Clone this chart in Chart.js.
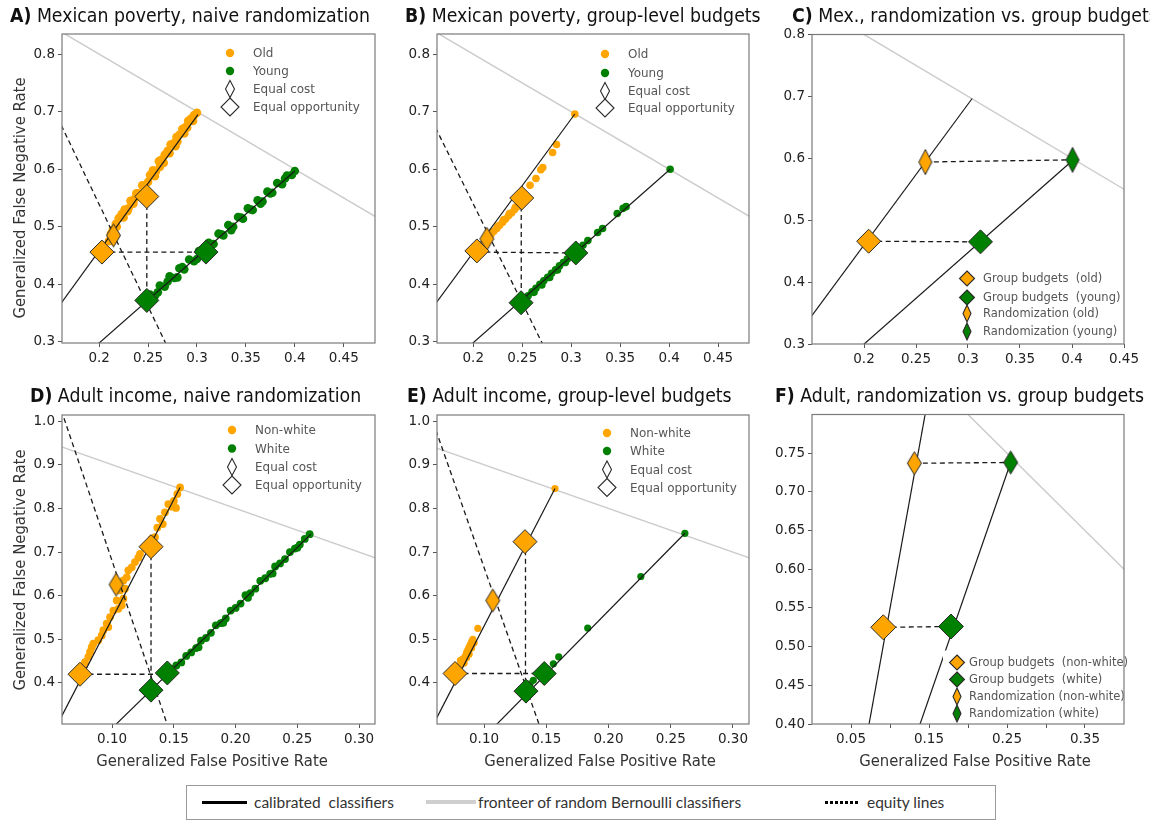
<!DOCTYPE html>
<html lang="en">
<head>
  <meta charset="UTF-8">
  <title>Calibrated classifiers: randomization vs. group budgets</title>
  <script src="https://cdn.jsdelivr.net/npm/chart.js"></script>
  <style>
    body { margin: 0; background: #fff; }
    #page { position: relative; width: 1150px; height: 825px; overflow: hidden; font-family: "DejaVu Sans", sans-serif; }
    canvas { position: absolute; }
    .title { position: absolute; font-size: 19.5px; line-height: 20px; white-space: nowrap; color: #111;
             transform-origin: 0 0; transform: scaleX(0.89); }
    .ylab { position: absolute; width: 320px; height: 20px; line-height: 20px; text-align: center; font-size: 16.5px;
            color: #333; white-space: nowrap; transform: rotate(-90deg) scaleX(0.9); }
    .xlab { position: absolute; width: 320px; height: 20px; line-height: 20px; text-align: center; font-size: 16.5px;
            color: #333; white-space: nowrap; transform: scaleX(0.9); }
    #keybox { position: absolute; left: 186px; top: 785px; width: 808px; height: 33px; border: 1px solid #9a9a9a; }
    .key { position: absolute; font-family: Lato, sans-serif; font-size: 15.5px; color: #333; line-height: 20px; top: 792px; white-space: nowrap; }
    .swatch { position: absolute; }
  </style>
</head>
<body>
<div id="page">
  <canvas id="chartA"></canvas>
  <canvas id="chartB"></canvas>
  <canvas id="chartC"></canvas>
  <canvas id="chartD"></canvas>
  <canvas id="chartE"></canvas>
  <canvas id="chartF"></canvas>

  <div class="title" style="left:10px;top:6px"><b>A)</b> Mexican poverty, naive randomization</div>
  <div class="title" style="left:405px;top:6px"><b>B)</b> Mexican poverty, group-level budgets</div>
  <div class="title" style="left:792px;top:6px"><b>C)</b> Mex., randomization vs. group budgets</div>
  <div class="title" style="left:30px;top:386px"><b>D)</b> Adult income, naive randomization</div>
  <div class="title" style="left:407px;top:386px"><b>E)</b> Adult income, group-level budgets</div>
  <div class="title" style="left:775px;top:386px"><b>F)</b> Adult, randomization vs. group budgets</div>

  <div class="ylab" style="left:-140px;top:188px">Generalized False Negative Rate</div>
  <div class="ylab" style="left:-140px;top:560px">Generalized False Negative Rate</div>
  <div class="xlab" style="left:52px;top:751px">Generalized False Positive Rate</div>
  <div class="xlab" style="left:440px;top:751px">Generalized False Positive Rate</div>
  <div class="xlab" style="left:815px;top:751px">Generalized False Positive Rate</div>

  <div id="keybox"></div>
  <div class="swatch" style="left:202px;top:801px;width:45px;height:3px;background:#000"></div>
  <div class="key" style="left:254px">calibrated&nbsp; classifiers</div>
  <div class="swatch" style="left:426px;top:800px;width:50px;height:4px;background:#cfcfcf"></div>
  <div class="key" style="left:478px">fronteer of random Bernoulli classifiers</div>
  <div class="swatch" style="left:825px;top:801px;width:35px;height:3px;background:repeating-linear-gradient(90deg,#000 0 3px,transparent 3px 5px)"></div>
  <div class="key" style="left:867px">equity lines</div>
</div>

<script>
  // frontier of random Bernoulli classifiers (FNR = 1 - FPR), end points
  const frontier = [[0, 1], [0.6, 0.4]];

  // ---- A) Mexican poverty, naive randomization
  const aXTicks = [0.2, 0.25, 0.3, 0.35, 0.4, 0.45];
  const aXLabels = ['0.2', '0.25', '0.3', '0.35', '0.4', '0.45'];
  const aYTicks = [0.3, 0.4, 0.5, 0.6, 0.7, 0.8];
  const aYLabels = ['0.3', '0.4', '0.5', '0.6', '0.7', '0.8'];
  const aOldDots = [[0.210,0.475],[0.212,0.488],[0.214,0.495],[0.217,0.505],[0.218,0.500],[0.220,0.515],
    [0.223,0.522],[0.225,0.516],[0.226,0.530],[0.229,0.527],[0.230,0.532],[0.232,0.545],[0.235,0.540],
    [0.236,0.548],[0.238,0.558],[0.240,0.558],[0.241,0.556],[0.244,0.572],[0.247,0.566],[0.250,0.578],
    [0.252,0.590],[0.255,0.598],[0.257,0.588],[0.258,0.596],[0.261,0.614],[0.262,0.604],[0.264,0.617],
    [0.266,0.611],[0.267,0.625],[0.270,0.632],[0.272,0.628],[0.273,0.643],[0.276,0.645],[0.278,0.640],
    [0.279,0.656],[0.280,0.648],[0.282,0.660],[0.285,0.670],[0.287,0.662],[0.288,0.673],[0.290,0.672],
    [0.291,0.684],[0.294,0.688],[0.296,0.684],[0.297,0.694],[0.300,0.698]];
  const aYoungDots = [[0.252,0.382],[0.255,0.378],[0.257,0.380],[0.260,0.386],[0.262,0.398],[0.267,0.396],
    [0.270,0.405],[0.272,0.414],[0.277,0.411],[0.280,0.412],[0.282,0.428],[0.285,0.430],[0.287,0.426],
    [0.292,0.443],[0.297,0.440],[0.300,0.444],[0.302,0.458],[0.310,0.465],[0.312,0.472],[0.317,0.470],
    [0.322,0.488],[0.325,0.487],[0.327,0.485],[0.332,0.503],[0.335,0.494],[0.337,0.500],[0.342,0.517],
    [0.345,0.516],[0.347,0.514],[0.352,0.532],[0.355,0.530],[0.357,0.529],[0.362,0.546],[0.365,0.540],
    [0.367,0.544],[0.372,0.561],[0.375,0.558],[0.377,0.559],[0.382,0.576],[0.387,0.574],[0.390,0.584],
    [0.392,0.589],[0.397,0.590],[0.400,0.597]];
  const aOldLine = [[0.301, 0.695], [0.1, 0.224]];
  const aYoungLine = [[0.4, 0.597], [0.1, 0.1485]];
  const aEquity = [[0.15, 0.7164], [0.28, 0.2549]];
  const aHoriz = [[0.2028, 0.456], [0.3092, 0.456]];
  const aVert = [[0.2487, 0.5526], [0.2487, 0.372]];
  const aCostOld = [[0.2146, 0.485]];
  const aOppOld = [[0.2028, 0.456], [0.2487, 0.5526]];
  const aOppYoung = [[0.2487, 0.372], [0.3092, 0.456]];

  // ---- B) Mexican poverty, group-level budgets
  const bOldDots = [[0.212,0.4755],[0.215,0.481],[0.218,0.486],[0.219,0.490],[0.221,0.492],[0.224,0.497],
    [0.225,0.501],[0.227,0.5025],[0.230,0.508],[0.231,0.512],[0.233,0.5135],[0.236,0.519],[0.237,0.523],
    [0.239,0.524],[0.242,0.5295],[0.243,0.534],[0.245,0.535],[0.248,0.540],[0.258,0.572],[0.264,0.584],
    [0.269,0.599],[0.271,0.603],[0.281,0.629],[0.285,0.643],[0.3037,0.696]];
  const bYoungDots = [[0.252,0.374],[0.256,0.380],[0.260,0.387],[0.262,0.386],[0.264,0.393],[0.268,0.400],
    [0.270,0.399],[0.272,0.406],[0.276,0.412],[0.278,0.412],[0.280,0.419],[0.284,0.425],[0.286,0.425],
    [0.288,0.432],[0.292,0.438],[0.294,0.438],[0.296,0.444],[0.300,0.451],[0.312,0.468],[0.317,0.476],
    [0.327,0.490],[0.332,0.497],[0.347,0.523],[0.353,0.532],[0.356,0.535],[0.401,0.600]];
  const bOldLine = [[0.3037, 0.696], [0.1, 0.2234]];
  const bYoungLine = [[0.401, 0.6], [0.1, 0.1485]];
  const bEquity = [[0.15, 0.7118], [0.29, 0.2302]];
  const bHoriz = [[0.2037, 0.456], [0.3047, 0.4545]];
  const bVert = [[0.249, 0.550], [0.249, 0.368]];
  const bCostOld = [[0.2139, 0.479]];
  const bOppOld = [[0.2037, 0.458], [0.2495, 0.550]];
  const bOppYoung = [[0.2488, 0.368], [0.3047, 0.4545]];

  // ---- C) Mex., randomization vs. group budgets
  const cXTicks = [0.2, 0.25, 0.3, 0.35, 0.4, 0.45];
  const cXLabels = ['0.2', '0.25', '0.3', '0.35', '0.4', '0.45'];
  const cOldLine = [[0.304, 0.6966], [0.1, 0.2323]];
  const cYoungLine = [[0.4005, 0.5965], [0.1, 0.1518]];
  const cLow = [[0.2045, 0.466], [0.312, 0.465]];
  const cHigh = [[0.259, 0.594], [0.4005, 0.5975]];
  const cBudgetOld = [[0.2045, 0.466]];
  const cBudgetYoung = [[0.312, 0.465]];
  const cRandOld = [[0.259, 0.594]];
  const cRandYoung = [[0.4005, 0.5975]];

  // ---- D) Adult income, naive randomization
  const dXTicks = [0.1, 0.15, 0.2, 0.25, 0.3];
  const dXLabels = ['0.10', '0.15', '0.20', '0.25', '0.30'];
  const dYTicks = [0.4, 0.5, 0.6, 0.7, 0.8, 0.9, 1.0];
  const dYLabels = ['0.4', '0.5', '0.6', '0.7', '0.8', '0.9', '1.0'];
  const dNonWhiteDots = [[0.155,0.848],[0.1528,0.833],[0.150,0.817],[0.1455,0.810],[0.1483,0.804],
    [0.1517,0.801],[0.1428,0.791],[0.1388,0.776],[0.141,0.764],[0.1366,0.756],[0.1347,0.734],[0.132,0.730],
    [0.1266,0.711],[0.1226,0.696],[0.1212,0.687],[0.1185,0.677],[0.1159,0.665],[0.1131,0.658],[0.1118,0.642],
    [0.1091,0.635],[0.1104,0.616],[0.1064,0.612],[0.1091,0.593],[0.1078,0.578],[0.1037,0.589],[0.101,0.566],
    [0.105,0.570],[0.0983,0.551],[0.0956,0.536],[0.0969,0.528],[0.0929,0.521],[0.0916,0.509],[0.0888,0.498],
    [0.0848,0.490],[0.0835,0.482],[0.0821,0.471],[0.0807,0.460],[0.078,0.448],[0.0767,0.437]];
  const dWhiteDots = [[0.148,0.432],[0.152,0.440],[0.156,0.447],[0.160,0.462],[0.164,0.470],[0.168,0.480],
    [0.170,0.482],[0.172,0.497],[0.176,0.503],[0.180,0.515],[0.184,0.532],[0.188,0.537],[0.190,0.538],
    [0.192,0.548],[0.196,0.566],[0.200,0.572],[0.204,0.582],[0.208,0.601],[0.210,0.595],[0.212,0.606],
    [0.216,0.616],[0.220,0.634],[0.224,0.640],[0.228,0.650],[0.230,0.651],[0.232,0.667],[0.236,0.674],
    [0.240,0.684],[0.244,0.700],[0.248,0.708],[0.250,0.710],[0.252,0.717],[0.256,0.730],[0.260,0.741]];
  const dNonWhiteLine = [[0.155, 0.848], [0.04, 0.219]];
  const dWhiteLine = [[0.261, 0.741], [0.09, 0.269]];
  const dEquity = [[0.05, 1.099], [0.15, 0.2599]];
  const dHoriz = [[0.074, 0.420], [0.1447, 0.420]];
  const dVert = [[0.1315, 0.7123], [0.1315, 0.3836]];
  const dCostNonWhite = [[0.1032, 0.6256]];
  const dOppNonWhite = [[0.074, 0.420], [0.1315, 0.7123]];
  const dOppWhite = [[0.1315, 0.3836], [0.1447, 0.423]];

  // ---- E) Adult income, group-level budgets
  const eNonWhiteDots = [[0.078,0.437],[0.080,0.440],[0.081,0.452],[0.082,0.448],[0.083,0.455],[0.084,0.446],
    [0.085,0.462],[0.086,0.458],[0.086,0.470],[0.087,0.476],[0.088,0.466],[0.088,0.482],[0.089,0.488],
    [0.090,0.480],[0.090,0.494],[0.091,0.500],[0.092,0.492],[0.095,0.525],[0.157,0.8455]];
  const eWhiteDots = [[0.137,0.398],[0.1396,0.406],[0.146,0.420],[0.151,0.432],[0.1557,0.444],[0.160,0.460],
    [0.1833,0.526],[0.226,0.644],[0.2614,0.743]];
  const eNonWhiteLine = [[0.157, 0.8455], [0.04, 0.1985]];
  const eWhiteLine = [[0.2614, 0.743], [0.09, 0.2468]];
  const eEquity = [[0.05, 1.071], [0.16, 0.177]];
  const eHoriz = [[0.0767, 0.4217], [0.1484, 0.4217]];
  const eVert = [[0.1333, 0.7238], [0.1333, 0.3813]];
  const eCostNonWhite = [[0.107, 0.589]];
  const eOppNonWhite = [[0.0767, 0.4217], [0.1329, 0.7238]];
  const eOppWhite = [[0.1337, 0.3813], [0.1484, 0.4217]];

  // ---- F) Adult, randomization vs. group budgets
  const fXTicks = [0.05, 0.1, 0.15, 0.2, 0.25, 0.3, 0.35];
  const fXLabels = ['0.05', '', '0.15', '', '0.25', '', '0.35'];
  const fYTicks = [0.4, 0.45, 0.5, 0.55, 0.6, 0.65, 0.7, 0.75];
  const fYLabels = ['0.40', '0.45', '0.50', '0.55', '0.60', '0.65', '0.70', '0.75'];
  const fNonWhiteLine = [[0.154, 0.85], [0.06, 0.3267]];
  const fWhiteLine = [[0.2547, 0.738], [0.12, 0.346]];
  const fLow = [[0.0914, 0.525], [0.1782, 0.526]];
  const fHigh = [[0.1312, 0.737], [0.2547, 0.738]];
  const fBudgetNonWhite = [[0.0914, 0.525]];
  const fBudgetWhite = [[0.1782, 0.526]];
  const fRandNonWhite = [[0.1312, 0.737]];
  const fRandWhite = [[0.2547, 0.738]];

  // legend texts
  const mexLegend = ['Old', 'Young', 'Equal cost', 'Equal opportunity'];
  const adultLegend = ['Non-white', 'White', 'Equal cost', 'Equal opportunity'];
  const cLegend = ['Group budgets  (old)', 'Group budgets  (young)', 'Randomization (old)', 'Randomization (young)'];
  const fLegend = ['Group budgets  (non-white)', 'Group budgets  (white)', 'Randomization (non-white)', 'Randomization (white)'];

  const ORANGE = '#ffa500';
  const GREEN = '#008000';
  const EDGE = '#2b2b2b';
  Chart.defaults.font.family = "'DejaVu Sans', sans-serif";

  function xy(arr) {
    return arr.map(p => ({ x: p[0], y: p[1] }));
  }

  // thin diamond marker (matplotlib 'd') as a small canvas
  function thinDiamond(fill, hw, hh) {
    const c = document.createElement('canvas');
    c.width = Math.ceil(hw * 2 + 3);
    c.height = Math.ceil(hh * 2 + 3);
    const g = c.getContext('2d');
    const cx = c.width / 2, cy = c.height / 2;
    g.beginPath();
    g.moveTo(cx, cy - hh);
    g.lineTo(cx + hw, cy);
    g.lineTo(cx, cy + hh);
    g.lineTo(cx - hw, cy);
    g.closePath();
    g.fillStyle = fill;
    g.fill();
    g.lineWidth = 1;
    g.strokeStyle = EDGE;
    g.stroke();
    return c;
  }

  function lineSet(data, color, width, dash, order) {
    return { data: xy(data), showLine: true, borderColor: color, borderWidth: width, borderDash: dash,
             pointRadius: 0, pointHoverRadius: 0, fill: false, order: order };
  }
  function dotSet(data, color, r) {
    return { data: xy(data), backgroundColor: color, borderWidth: 0, pointRadius: r, pointHoverRadius: r, order: 3 };
  }
  function bigSet(data, color, r) {
    return { data: xy(data), pointStyle: 'rectRot', pointRadius: r, pointHoverRadius: r,
             backgroundColor: color, borderColor: EDGE, borderWidth: 1, order: 0 };
  }
  function thinSet(data, color, hw, hh) {
    return { data: xy(data), pointStyle: thinDiamond(color, hw, hh), pointRadius: hh, pointHoverRadius: hh, order: 0 };
  }
  const frontierSet = () => lineSet(frontier, '#cccccc', 1.5, [], 4);
  const calSet = d => lineSet(d, '#1a1a1a', 1.2, [], 2);
  const eqSet = d => lineSet(d, '#1a1a1a', 1.3, [5, 3.5], 1);

  function drawMarker(ctx, m, x, y) {
    ctx.beginPath();
    if (m.kind === 'dot') {
      ctx.arc(x, y, m.r, 0, Math.PI * 2);
      ctx.fillStyle = m.fill;
      ctx.fill();
      return;
    }
    const hw = m.kind === 'big' ? m.r : m.hw;
    const hh = m.kind === 'big' ? m.r : m.hh;
    ctx.moveTo(x, y - hh);
    ctx.lineTo(x + hw, y);
    ctx.lineTo(x, y + hh);
    ctx.lineTo(x - hw, y);
    ctx.closePath();
    ctx.fillStyle = m.fill;
    ctx.fill();
    ctx.lineWidth = 1.1;
    ctx.strokeStyle = EDGE;
    ctx.stroke();
  }

  // legend drawn inside the plot area, then the plot box outline on top
  function insetLegendAndFrame(spec) {
    return {
      id: 'insetLegendAndFrame',
      afterDraw(chart) {
        const ctx = chart.ctx, a = chart.chartArea;
        ctx.save();
        ctx.font = spec.font;
        let maxW = 0;
        spec.labels.forEach(t => { maxW = Math.max(maxW, ctx.measureText(t).width * spec.squeeze); });
        const mx = a.left + spec.markerX, tx = a.left + spec.textX;
        const rows = spec.rows.map(r => a.top + r);
        const top = Math.max(a.top + 1, rows[0] - 12);
        const bottom = Math.min(a.bottom - 1, rows[rows.length - 1] + 11);
        const right = Math.min(a.right - 1, tx + maxW + 6);
        ctx.fillStyle = '#fff';
        ctx.fillRect(mx - 14, top, right - (mx - 14), bottom - top);
        spec.labels.forEach((t, i) => {
          drawMarker(ctx, spec.markers[i], mx, rows[i]);
          ctx.save();
          ctx.translate(tx, rows[i]);
          ctx.scale(spec.squeeze, 1);
          ctx.fillStyle = '#555';
          ctx.textBaseline = 'middle';
          ctx.fillText(t, 0, 1);
          ctx.restore();
        });
        ctx.strokeStyle = '#7a7a7a';
        ctx.lineWidth = 1.2;
        ctx.strokeRect(a.left, a.top, a.right - a.left, a.bottom - a.top);
        ctx.restore();
      }
    };
  }

  function axis(min, max, ticks, labels, isX) {
    return {
      type: 'linear', min: min, max: max,
      afterBuildTicks: s => { s.ticks = ticks.map(v => ({ value: v })); },
      afterFit: s => { if (isX) s.height = 30; else s.width = 50; },
      ticks: { callback: (v, i) => labels[i], autoSkip: false, maxRotation: 0, padding: 3,
               color: '#222', font: { size: 13.5 } },
      grid: { drawOnChartArea: false, tickLength: 4, color: '#555' },
      border: { display: false }
    };
  }

  // chart-area boxes on the page: left, top, right, bottom
  const boxes = {
    chartA: [62, 33, 375, 343], chartB: [437, 33, 749, 343], chartC: [812, 33, 1124, 344],
    chartD: [62, 414, 375, 724], chartE: [437, 414, 749, 724], chartF: [812, 413, 1124, 724]
  };

  function buildPanel(id, p) {
    const el = document.getElementById(id);
    const b = boxes[id];
    el.width = 50 + (b[2] - b[0]) + 22;
    el.height = 12 + (b[3] - b[1]) + 30;
    el.style.left = (b[0] - 50) + 'px';
    el.style.top = (b[1] - 12) + 'px';
    return new Chart(el, {
      type: 'scatter',
      data: { datasets: p.datasets },
      options: {
        responsive: false,
        animation: false,
        events: [],
        layout: { padding: { top: 12, right: 22, left: 0, bottom: 0 } },
        plugins: { legend: { display: false }, tooltip: { enabled: false } },
        scales: {
          x: axis(p.x[0], p.x[1], p.xTicks, p.xLabels, true),
          y: axis(p.y[0], p.y[1], p.yTicks, p.yLabels, false)
        }
      },
      plugins: [insetLegendAndFrame(p.legend)]
    });
  }

  const topLegendMarkers = (c1, c2) => [
    { kind: 'dot', r: 4.2, fill: c1 }, { kind: 'dot', r: 4.2, fill: c2 },
    { kind: 'thin', hw: 4.5, hh: 8.5, fill: '#fff' }, { kind: 'big', r: 9, fill: '#fff' }
  ];
  const sideLegendMarkers = [
    { kind: 'big', r: 7.5, fill: ORANGE }, { kind: 'big', r: 7.5, fill: GREEN },
    { kind: 'thin', hw: 4, hh: 8.5, fill: ORANGE }, { kind: 'thin', hw: 4, hh: 8.5, fill: GREEN }
  ];

  buildPanel('chartA', {
    x: [0.162, 0.482], y: [0.298, 0.835],
    xTicks: aXTicks, xLabels: aXLabels, yTicks: aYTicks, yLabels: aYLabels,
    datasets: [
      bigSet(aOppOld, ORANGE, 12), bigSet(aOppYoung, GREEN, 12), thinSet(aCostOld, ORANGE, 7, 11.5),
      eqSet(aEquity), eqSet(aHoriz), eqSet(aVert),
      calSet(aOldLine), calSet(aYoungLine),
      dotSet(aOldDots, ORANGE, 4.3), dotSet(aYoungDots, GREEN, 4.3),
      frontierSet()
    ],
    legend: { labels: mexLegend, markers: topLegendMarkers(ORANGE, GREEN), markerX: 168, textX: 191,
              rows: [19, 37, 55, 73], font: "13px 'DejaVu Sans'", squeeze: 0.92 }
  });

  buildPanel('chartB', {
    x: [0.163, 0.4815], y: [0.298, 0.835],
    xTicks: aXTicks, xLabels: aXLabels, yTicks: aYTicks, yLabels: aYLabels,
    datasets: [
      bigSet(bOppOld, ORANGE, 12), bigSet(bOppYoung, GREEN, 12), thinSet(bCostOld, ORANGE, 7, 11.5),
      eqSet(bEquity), eqSet(bHoriz), eqSet(bVert),
      calSet(bOldLine), calSet(bYoungLine),
      dotSet(bOldDots, ORANGE, 3.8), dotSet(bYoungDots, GREEN, 3.8),
      frontierSet()
    ],
    legend: { labels: mexLegend, markers: topLegendMarkers(ORANGE, GREEN), markerX: 168, textX: 191,
              rows: [20, 39, 57, 74], font: "13px 'DejaVu Sans'", squeeze: 0.92 }
  });

  buildPanel('chartC', {
    x: [0.15, 0.45], y: [0.3, 0.8],
    xTicks: cXTicks, xLabels: cXLabels, yTicks: aYTicks, yLabels: aYLabels,
    datasets: [
      bigSet(cBudgetOld, ORANGE, 12), bigSet(cBudgetYoung, GREEN, 12),
      thinSet(cRandOld, ORANGE, 6.5, 12.5), thinSet(cRandYoung, GREEN, 6.5, 12.5),
      eqSet(cLow), eqSet(cHigh),
      calSet(cOldLine), calSet(cYoungLine),
      frontierSet()
    ],
    legend: { labels: cLegend, markers: sideLegendMarkers, markerX: 155, textX: 171,
              rows: [244, 263, 279, 297], font: "11.5px 'DejaVu Sans'", squeeze: 1 }
  });

  buildPanel('chartD', {
    x: [0.0594, 0.3129], y: [0.306, 1.014],
    xTicks: dXTicks, xLabels: dXLabels, yTicks: dYTicks, yLabels: dYLabels,
    datasets: [
      bigSet(dOppNonWhite, ORANGE, 12), bigSet(dOppWhite, GREEN, 12), thinSet(dCostNonWhite, ORANGE, 7, 11.5),
      eqSet(dEquity), eqSet(dHoriz), eqSet(dVert),
      calSet(dNonWhiteLine), calSet(dWhiteLine),
      dotSet(dNonWhiteDots, ORANGE, 3.9), dotSet(dWhiteDots, GREEN, 3.9),
      frontierSet()
    ],
    legend: { labels: adultLegend, markers: topLegendMarkers(ORANGE, GREEN), markerX: 170, textX: 193,
              rows: [15, 33.5, 52, 70], font: "13px 'DejaVu Sans'", squeeze: 0.92 }
  });

  buildPanel('chartE', {
    x: [0.0622, 0.3129], y: [0.306, 1.014],
    xTicks: dXTicks, xLabels: dXLabels, yTicks: dYTicks, yLabels: dYLabels,
    datasets: [
      bigSet(eOppNonWhite, ORANGE, 12), bigSet(eOppWhite, GREEN, 12), thinSet(eCostNonWhite, ORANGE, 7, 11.5),
      eqSet(eEquity), eqSet(eHoriz), eqSet(eVert),
      calSet(eNonWhiteLine), calSet(eWhiteLine),
      dotSet(eNonWhiteDots, ORANGE, 3.6), dotSet(eWhiteDots, GREEN, 3.6),
      frontierSet()
    ],
    legend: { labels: adultLegend, markers: topLegendMarkers(ORANGE, GREEN), markerX: 170, textX: 193,
              rows: [18, 36, 54.5, 72.5], font: "13px 'DejaVu Sans'", squeeze: 0.92 }
  });

  buildPanel('chartF', {
    x: [0, 0.4], y: [0.4, 0.8],
    xTicks: fXTicks, xLabels: fXLabels, yTicks: fYTicks, yLabels: fYLabels,
    datasets: [
      bigSet(fBudgetNonWhite, ORANGE, 12.5), bigSet(fBudgetWhite, GREEN, 12.5),
      thinSet(fRandNonWhite, ORANGE, 7, 11.5), thinSet(fRandWhite, GREEN, 7, 11.5),
      eqSet(fLow), eqSet(fHigh),
      calSet(fNonWhiteLine), calSet(fWhiteLine),
      frontierSet()
    ],
    legend: { labels: fLegend, markers: sideLegendMarkers, markerX: 145, textX: 157,
              rows: [248, 265, 282, 299], font: "11.5px 'DejaVu Sans'", squeeze: 1 }
  });
</script>
</body>
</html>
